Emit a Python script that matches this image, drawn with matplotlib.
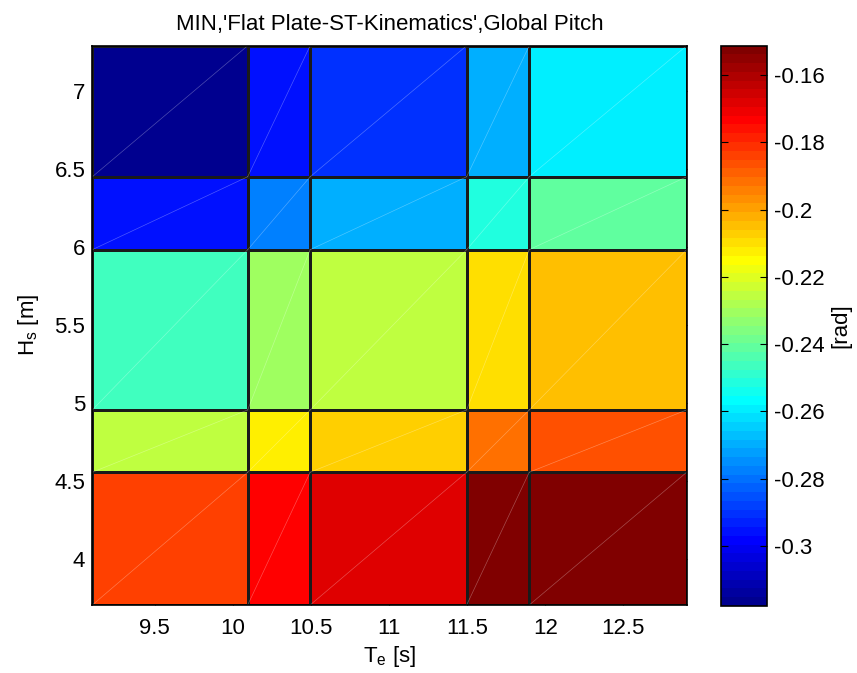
import numpy as np
import matplotlib
matplotlib.use("Agg")
import matplotlib.pyplot as plt
from matplotlib.colors import ListedColormap
from matplotlib.ticker import FormatStrFormatter

plt.rcParams["font.family"] = ["Liberation Sans", "DejaVu Sans"]
plt.rcParams["mathtext.fontset"] = "custom"
plt.rcParams["mathtext.rm"] = "Liberation Sans"
plt.rcParams["mathtext.it"] = "Liberation Sans"
plt.rcParams["axes.unicode_minus"] = False

# Cell boundaries of the sea-state grid
te_edges = [9.1, 10.095, 10.495, 11.497, 11.898, 12.906]
hs_edges = [3.707, 4.557, 4.956, 5.982, 6.449, 7.288]

# Minimum global pitch [rad], rows from low Hs to high Hs
pitch_min = np.array([
    [-0.184, -0.1734, -0.1682, -0.1526, -0.1513],
    [-0.2254, -0.2124, -0.2072, -0.1916, -0.1864],
    [-0.2463, -0.2306, -0.2254, -0.2098, -0.2046],
    [-0.2957, -0.2775, -0.2697, -0.2515, -0.2411],
    [-0.3178, -0.2957, -0.2905, -0.2697, -0.2593],
])

x_ticks = [9.5, 10, 10.5, 11, 11.5, 12, 12.5]
y_ticks = [4, 4.5, 5, 5.5, 6, 6.5, 7]
cbar_ticks = [-0.3, -0.28, -0.26, -0.24, -0.22, -0.2, -0.18, -0.16]


def matlab_jet(n=64):
    m = int(np.ceil(n / 4))
    u = np.concatenate([np.arange(1, m + 1) / m, np.ones(m - 1), np.arange(m, 0, -1) / m])
    g = int(np.ceil(m / 2)) - (1 if n % 4 == 1 else 0) + np.arange(1, len(u) + 1)
    r = g + m
    b = g - m
    J = np.zeros((n, 3))
    for col, idx in enumerate((r, g, b)):
        ok = (idx >= 1) & (idx <= n)
        J[idx[ok] - 1, col] = u[ok]
    return ListedColormap(J)


cmap = matlab_jet(64)

W, H = 857, 673
fig = plt.figure(figsize=(W / 100, H / 100), dpi=100)
ax = fig.add_axes([92.3 / W, 1 - 605 / H, (686.7 - 92.3) / W, (605 - 45.7) / H])
cax = fig.add_axes([721 / W, 1 - 606 / H, (767.3 - 721) / W, (606 - 45.7) / H])

mesh = ax.pcolormesh(te_edges, hs_edges, pitch_min, cmap=cmap,
                     vmin=pitch_min.min(), vmax=pitch_min.max(),
                     edgecolors="#1a1a1a", linewidth=0.9)

# faint triangle seams across each patch
for j in range(len(hs_edges) - 1):
    for i in range(len(te_edges) - 1):
        ax.plot([te_edges[i], te_edges[i + 1]], [hs_edges[j], hs_edges[j + 1]],
                color="white", lw=0.5, alpha=0.3, zorder=1.5)

ax.set_xlim(te_edges[0], te_edges[-1])
ax.set_ylim(hs_edges[0], hs_edges[-1])
ax.set_xticks(x_ticks)
ax.set_yticks(y_ticks)
ax.xaxis.set_major_formatter(FormatStrFormatter("%g"))
ax.yaxis.set_major_formatter(FormatStrFormatter("%g"))
ax.set_axisbelow(True)
ax.tick_params(direction="in", length=5, labelsize=16, top=True, right=True)
ax.tick_params(axis="x", pad=9)
ax.tick_params(axis="y", pad=5)
for s in ax.spines.values():
    s.set_linewidth(1.2)

ax.set_title("MIN,'Flat Plate-ST-Kinematics',Global Pitch", fontsize=16, pad=11)
ax.set_xlabel(r"T$_\mathrm{e}$ [s]", fontsize=16, labelpad=4)
ax.set_ylabel(r"H$_\mathrm{s}$ [m]", fontsize=16, labelpad=10)

cb = fig.colorbar(mesh, cax=cax)
cb.set_ticks(cbar_ticks)
cb.ax.yaxis.set_major_formatter(FormatStrFormatter("%g"))
cb.ax.tick_params(direction="in", length=5, labelsize=16, left=True, right=True, pad=5)
cb.outline.set_linewidth(1.2)
cb.set_label("[rad]", fontsize=16, labelpad=4)

fig.savefig("out.png", dpi=100)
